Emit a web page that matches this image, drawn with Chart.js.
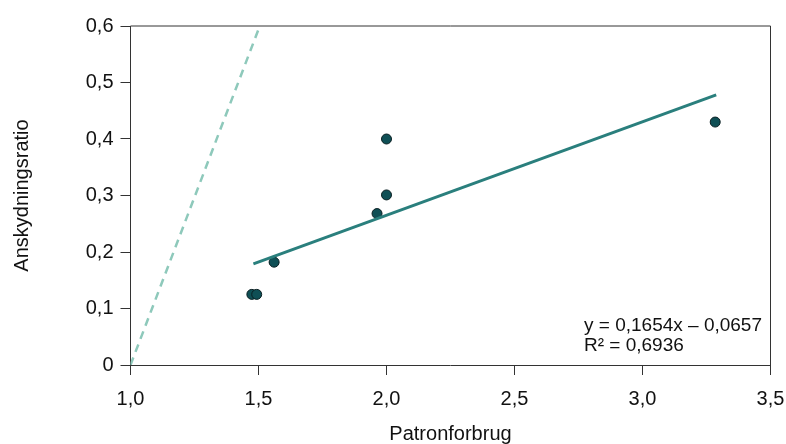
<!DOCTYPE html>
<html>
	<head>
		<title>Anskydningsratio vs Patronforbrug</title>
		<script src="https://cdnjs.cloudflare.com/ajax/libs/Chart.js/4.4.1/chart.umd.min.js"></script>
		<style>
			body { margin: 0; background: #fff; }
			.chart-container { width: 786px; height: 444px; }
		</style>
	</head>
	<body>
		<div class="chart-container">
			<canvas id="scatterChart"></canvas>
		</div>
		<script>
			// Measured points (Patronforbrug, Anskydningsratio)
			const patronforbrug = [1.474, 1.493, 1.561, 1.963, 2.0, 2.0, 3.284];
			const anskydningsratio = [0.125, 0.125, 0.182, 0.268, 0.301, 0.4, 0.43];

			// Linear trend line end points
			const trendX = [1.48, 3.288];
			const trendY = [0.179, 0.478];

			// Dashed reference line end points
			const refX = [1.0, 1.505];
			const refY = [0.0, 0.6];

			const xTicks = [1.0, 1.5, 2.0, 2.5, 3.0, 3.5];
			const yTicks = [0, 0.1, 0.2, 0.3, 0.4, 0.5, 0.6];

			const equationLines = ["y = 0,1654x \u2013 0,0657", "R\u00b2 = 0,6936"];

			const toXY = (xs, ys) => xs.map((x, i) => ({ x: x, y: ys[i] }));
			const comma = (v, d) => v.toFixed(d).replace(".", ",");

			const fontFamily = "'Liberation Sans', Arial, Helvetica, sans-serif";
			const axisColor = "#333333";

			// Closes the box on top/right and writes the regression text
			const framePlugin = {
				id: "frame",
				afterDraw(chart) {
					const { ctx, chartArea } = chart;
					ctx.save();
					ctx.strokeStyle = axisColor;
					ctx.lineWidth = 1;
					ctx.beginPath();
					ctx.moveTo(chartArea.left, chartArea.top);
					ctx.lineTo(chartArea.right, chartArea.top);
					ctx.lineTo(chartArea.right, chartArea.bottom);
					ctx.stroke();

					ctx.fillStyle = "#111";
					ctx.font = "19px " + fontFamily;
					ctx.textBaseline = "alphabetic";
					ctx.fillText(equationLines[0], 584, 331);
					ctx.fillText(equationLines[1], 584, 351);
					ctx.restore();
				},
			};

			const data = {
				datasets: [
					{
						label: "Reference",
						data: toXY(refX, refY),
						showLine: true,
						borderColor: "#8ec9bb",
						borderWidth: 2.5,
						borderDash: [8, 6],
						pointRadius: 0,
						fill: false,
					},
					{
						label: "Trend",
						data: toXY(trendX, trendY),
						showLine: true,
						borderColor: "#2a7f7d",
						borderWidth: 3,
						pointRadius: 0,
						fill: false,
					},
					{
						label: "Data",
						data: toXY(patronforbrug, anskydningsratio),
						backgroundColor: "#0f4f55",
						borderColor: "#0a1f22",
						borderWidth: 1,
						pointRadius: 5,
					},
				],
			};

			const config = {
				type: "scatter",
				data: data,
				plugins: [framePlugin],
				options: {
					responsive: false,
					animation: false,
					layout: {
						padding: { top: 26, right: 15.5, left: 0, bottom: 0 },
					},
					plugins: {
						legend: { display: false },
						tooltip: { enabled: false },
					},
					scales: {
						x: {
							type: "linear",
							min: 1.0,
							max: 3.5,
							afterBuildTicks: (scale) => {
								scale.ticks = xTicks.map((v) => ({ value: v }));
							},
							afterFit: (scale) => {
								scale.height = 79;
								scale.paddingLeft = 0;
								scale.paddingRight = 0;
							},
							ticks: {
								color: "#111",
								font: { family: fontFamily, size: 20 },
								padding: 12,
								callback: (v) => comma(v, 1),
							},
							grid: {
								drawOnChartArea: false,
								drawTicks: true,
								tickLength: 10,
								color: axisColor,
							},
							border: { display: true, color: axisColor, width: 1 },
							title: {
								display: true,
								text: "Patronforbrug",
								color: "#111",
								font: { family: fontFamily, size: 20, lineHeight: 1 },
								padding: { top: 0, bottom: 0 },
							},
						},
						y: {
							type: "linear",
							min: 0,
							max: 0.6,
							afterBuildTicks: (scale) => {
								scale.ticks = yTicks.map((v) => ({ value: v }));
							},
							afterFit: (scale) => {
								scale.width = 130.5;
								scale.paddingTop = 0;
								scale.paddingBottom = 0;
							},
							ticks: {
								color: "#111",
								font: { family: fontFamily, size: 20 },
								padding: 7,
								callback: (v) => (v === 0 ? "0" : comma(v, 1)),
							},
							grid: {
								drawOnChartArea: false,
								drawTicks: true,
								tickLength: 10,
								color: axisColor,
							},
							border: { display: true, color: axisColor, width: 1 },
							title: {
								display: true,
								text: "Anskydningsratio",
								color: "#111",
								font: { family: fontFamily, size: 20, lineHeight: 1.2 },
								padding: { top: 10, bottom: 0 },
							},
						},
					},
				},
			};

			const canvas = document.getElementById("scatterChart");
			canvas.width = 786;
			canvas.height = 444;
			new Chart(canvas, config);
		</script>
	</body>
</html>
